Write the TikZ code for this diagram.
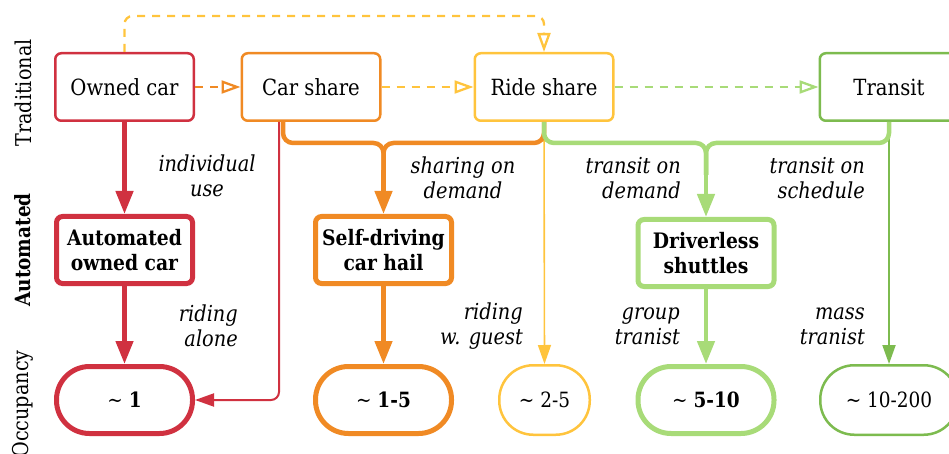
\documentclass[tikz,border=0pt]{standalone}
\usepackage{fontspec}
\setmainfont{DejaVu Serif}[FakeStretch=0.88]
\usetikzlibrary{arrows.meta}
\definecolor{cred}{RGB}{208,49,64}
\definecolor{corange}{RGB}{240,138,36}
\definecolor{cyellow}{RGB}{255,196,61}
\definecolor{clgreen}{RGB}{168,219,120}
\definecolor{cdgreen}{RGB}{125,187,79}
\begin{document}
\begin{tikzpicture}[x=1pt,y=-1pt,
  box/.style={draw, rounded corners=6pt, minimum width=138.5pt, minimum height=67.5pt,
    line width=2.5pt, fill=white, inner sep=0pt, align=center,
    font=\fontsize{22.3}{25}\selectfont},
  abox/.style={box, line width=5pt, minimum width=136pt, minimum height=67pt,
    font=\fontsize{21.3}{25}\selectfont\bfseries},
  occ/.style={draw, rounded corners=33pt, minimum width=136pt, minimum height=67pt,
    line width=5pt, fill=white, inner sep=0pt, font=\fontsize{21}{25}\selectfont},
  occthin/.style={occ, line width=2.5pt, minimum height=69.5pt, rounded corners=34pt},
  lbl/.style={align=right, inner sep=0pt, font=\fontsize{22}{25}\selectfont\itshape},
  side/.style={rotate=90, inner sep=0pt, font=\fontsize{21.8}{24}\selectfont},
  thick tip/.style={-{Triangle[length=23pt,width=17pt]}, line width=4.5pt},
  thin tip/.style={-{Triangle[length=19pt,width=13pt]}, line width=2pt},
  open tip/.style={-{Triangle[open,length=19pt,width=13pt]}, line width=2.3pt, dash pattern=on 8pt off 7pt},
  merge/.style={line width=4.5pt, rounded corners=10pt}
]
\useasboundingbox (0,0) rectangle (949,454);

% side labels
\node[side] (tradl) at (23,93) {Traditional};
\node[side, font=\fontsize{21}{24}\selectfont\bfseries] (autol) at (23,250) {Automated};
\node[side] (occl) at (23,404) {Occupancy};

% traditional row
\node[box, draw=cred] (oc) at (124.5,87) {Owned car};
\node[box, draw=corange] (cs) at (311,87) {Car share};
\node[box, draw=cyellow] (rs) at (544,87) {Ride share};
\node[box, draw=cdgreen] (tr) at (889,87) {Transit};

% automated row
\node[abox, draw=cred] (ao) at (124.5,250) {Automated\\owned car};
\node[abox, draw=corange] (sd) at (383.5,250) {Self-driving\\car hail};
\node[abox, draw=clgreen] (ds) at (706,253) {Driverless\\shuttles};

% occupancy row
\node[occ, draw=cred] (o1) at (124.5,400) {\textasciitilde{} \textbf{1}};
\node[occ, draw=corange] (o15) at (383.5,400) {\textasciitilde{} \textbf{1-5}};
\node[occthin, draw=cyellow, minimum width=90.5pt] (o25) at (544.5,400) {\textasciitilde{} 2-5};
\node[occ, draw=clgreen] (o510) at (706,400) {\textasciitilde{} \textbf{5-10}};
\node[occthin, draw=cdgreen, minimum width=137.5pt] (o10) at (889,400) {\textasciitilde{} 10-200};

% labels
\node[lbl, align=center] (l1) at (207,176) {individual\\use};
\node[lbl, align=center] (l2) at (463,178) {sharing on\\demand};
\node[lbl, anchor=east] (l3) at (681,178) {transit on\\demand};
\node[lbl, anchor=east] (l4) at (865,178) {transit on\\schedule};
\node[lbl, anchor=east] (l5) at (238,326) {riding\\alone};
\node[lbl, anchor=east] (l6) at (523,326) {riding\\w. guest};
\node[lbl, anchor=east] (l7) at (680,326) {group\\tranist};
\node[lbl, anchor=east] (l8) at (865,326) {mass\\tranist};

% dashed transitions
\draw[open tip, draw=corange] (oc.east) -- (cs.west);
\draw[open tip, draw=cyellow] (cs.east) -- (rs.west);
\draw[open tip, draw=clgreen] (rs.east) -- (tr.west);
\coordinate (tl) at (124.5,16);
\coordinate (tr2) at (544,16);
\draw[open tip, draw=cyellow, rounded corners=8pt] (oc.north) -- (tl) -- (tr2) -- (rs.north);

% thin connectors
\draw[thin tip, draw=cred, rounded corners=8pt] ([xshift=-32pt]cs.south) |- (o1.east);
\draw[thin tip, draw=cyellow, line width=1.6pt] (rs.south) -- (o25.north);
\draw[thin tip, draw=cdgreen] (tr.south) -- (o10.north);

% merges
\coordinate (mo) at (383.5,143);
\coordinate (mg) at (706,143);
\draw[merge, draw=corange] ([xshift=-28pt]cs.south) |- (mo) -- (383.5,175);
\draw[merge, draw=corange] (rs.south) |- (mo) -- (383.5,175);
\draw[thick tip, draw=corange] (383.5,170) -- (sd.north);
\draw[merge, draw=clgreen] (rs.south) |- (mg) -- (706,175);
\draw[merge, draw=clgreen] (tr.south) |- (mg) -- (706,175);
\draw[thick tip, draw=clgreen] (706,170) -- (ds.north);

% vertical thick arrows
\draw[thick tip, draw=cred] (oc.south) -- (ao.north);
\draw[thick tip, draw=cred] (ao.south) -- (o1.north);
\draw[thick tip, draw=corange] (sd.south) -- (o15.north);
\draw[thick tip, draw=clgreen] (ds.south) -- (o510.north);
\end{tikzpicture}
\end{document}
